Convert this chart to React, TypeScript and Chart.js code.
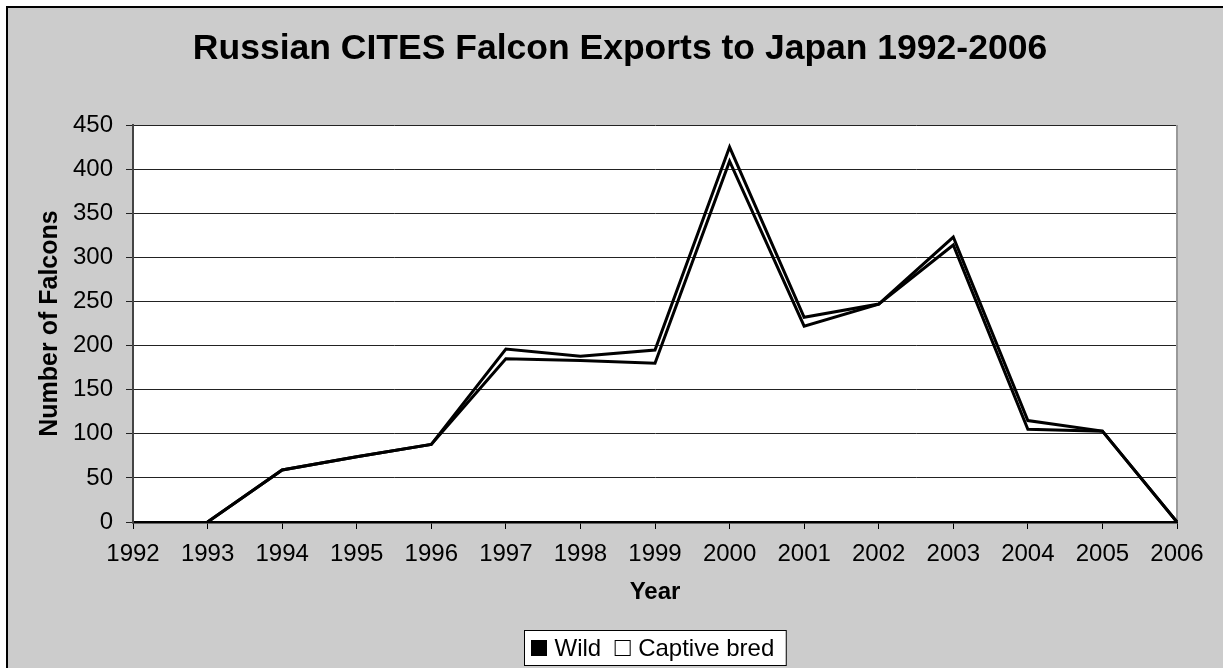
import React, { useEffect, useRef } from "react";
import { Chart, registerables } from "chart.js";

Chart.register(...registerables);

const TITLE = "Russian CITES Falcon Exports to Japan 1992-2006";
const X_TITLE = "Year";
const Y_TITLE = "Number of Falcons";
const YEARS = ["1992", "1993", "1994", "1995", "1996", "1997", "1998", "1999", "2000", "2001", "2002", "2003", "2004", "2005", "2006"];
const WILD = [null, 0, 59, 74, 88, 185, 183, 180, 409, 222, 247, 314, 105, 103, 0];
const CAPTIVE_BRED = [null, 0, 59, 74, 88, 196, 188, 195, 425, 232, 247, 323, 115, 103, 0];
const SERIES_NAMES = ["Wild", "Captive bred"];
const Y_MIN = 0;
const Y_MAX = 450;
const Y_STEP = 50;

const FONT = "'Liberation Sans', Arial, sans-serif";

const framePlugin = {
  id: "frame",
  beforeDraw(chart: any) {
    const { ctx, chartArea: a, width, height } = chart;
    ctx.save();
    ctx.fillStyle = "#ffffff";
    ctx.fillRect(0, 0, width, height);
    ctx.fillStyle = "#cccccc";
    ctx.fillRect(6, 6, 1240, 700);
    ctx.strokeStyle = "#000000";
    ctx.lineWidth = 2;
    ctx.strokeRect(7, 7, 1240, 700);
    ctx.fillStyle = "#ffffff";
    ctx.fillRect(a.left, a.top, a.right - a.left, a.bottom - a.top);
    // title
    ctx.fillStyle = "#000";
    ctx.font = `bold 35.5px ${FONT}`;
    ctx.textAlign = "center";
    ctx.textBaseline = "alphabetic";
    ctx.fillText(TITLE, 620, 59);
    ctx.restore();
  },
  beforeDatasetsDraw(chart: any) {
    const { ctx, chartArea: a } = chart;
    ctx.save();
    ctx.strokeStyle = "#999999";
    ctx.lineWidth = 2;
    ctx.beginPath();
    ctx.moveTo(a.right, a.top);
    ctx.lineTo(a.right, a.bottom);
    ctx.stroke();
    ctx.restore();
  },
  afterDraw(chart: any) {
    const { ctx, chartArea: a } = chart;
    const labels = chart.data.datasets.map((d: any) => d.label);
    ctx.save();
    ctx.font = `24px ${FONT}`;
    const sq = 15;
    const gapSqText = 8;
    const gapItems = 14;
    const padL = 7;
    const padR = 12;
    const widths = labels.map((l: string) => ctx.measureText(l).width);
    let total = padL + padR;
    widths.forEach((w: number, i: number) => {
      total += sq + gapSqText + w + (i < widths.length - 1 ? gapItems : 0);
    });
    const cx = (a.left + a.right) / 2;
    const bx = Math.round(cx - total / 2) + 0.5;
    const by = 630.5;
    const bh = 35;
    ctx.fillStyle = "#ffffff";
    ctx.fillRect(bx, by, total, bh);
    ctx.strokeStyle = "#000000";
    ctx.lineWidth = 1;
    ctx.strokeRect(bx, by, total, bh);
    let x = bx + padL;
    const fills = ["#000000", "#ffffff"];
    labels.forEach((l: string, i: number) => {
      ctx.fillStyle = fills[i];
      ctx.fillRect(x, by + 10, sq, sq);
      ctx.strokeStyle = "#000";
      ctx.lineWidth = 1;
      ctx.strokeRect(x, by + 10, sq, sq);
      x += sq + gapSqText;
      ctx.fillStyle = "#000";
      ctx.textAlign = "left";
      ctx.textBaseline = "alphabetic";
      ctx.fillText(l, x, by + 25);
      x += widths[i] + gapItems;
    });
    ctx.restore();
  },
};

export default function App() {
  const ref = useRef<HTMLCanvasElement | null>(null);
  useEffect(() => {
    if (!ref.current) return;
    const chart = new Chart(ref.current, {
      type: "line",
      data: {
        labels: YEARS,
        datasets: [
          { label: SERIES_NAMES[0], data: WILD, borderColor: "#000", borderWidth: 3, pointRadius: 0, tension: 0, fill: false },
          { label: SERIES_NAMES[1], data: CAPTIVE_BRED, borderColor: "#000", borderWidth: 3, pointRadius: 0, tension: 0, fill: false },
        ],
      },
      options: {
        responsive: false,
        animation: false,
        devicePixelRatio: 1,
        layout: { padding: { left: 0, top: 125, right: 46, bottom: 0 } },
        plugins: {
          legend: { display: false },
          title: { display: false },
          tooltip: { enabled: false },
        },
        scales: {
          x: {
            type: "category",
            offset: false,
            grid: { drawOnChartArea: false, drawTicks: true, tickLength: 7, color: "#000", lineWidth: 1 },
            border: { display: true, color: "#000", width: 2.5 },
            ticks: { color: "#000", font: { family: FONT, size: 24 }, padding: 11, maxRotation: 0, autoSkip: false },
            title: { display: true, text: X_TITLE, color: "#000", font: { family: FONT, size: 24, weight: "bold" }, padding: { top: 0, bottom: 61 } },
            afterFit(scale: any) { scale.height = 146; },
          },
          y: {
            min: Y_MIN,
            max: Y_MAX,
            ticks: { stepSize: Y_STEP, color: "#000", font: { family: FONT, size: 24 }, padding: 13 },
            grid: { color: "#222", lineWidth: 1, tickLength: 7, drawTicks: true },
            border: { display: true, color: "#444", width: 2 },
            title: { display: true, text: Y_TITLE, color: "#000", font: { family: FONT, size: 25, weight: "bold" }, padding: { top: 35, bottom: 0 } },
            afterFit(scale: any) { scale.width = 133; },
          },
        },
      } as any,
      plugins: [framePlugin],
    });
    return () => chart.destroy();
  }, []);
  return (
    <div style={{ position: "fixed", left: 0, top: 0, width: 1223, height: 668, overflow: "hidden" }}>
      <canvas ref={ref} width={1223} height={668} style={{ display: "block" }} />
    </div>
  );
}
